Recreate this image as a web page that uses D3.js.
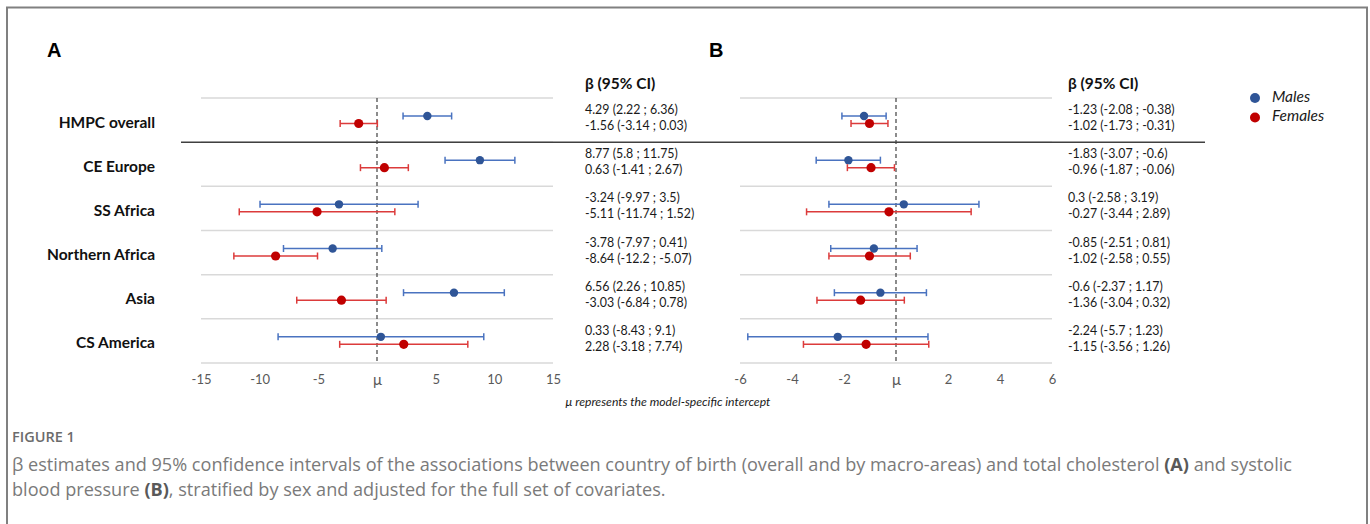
<!DOCTYPE html>
<html><head><meta charset="utf-8">
<script src="https://cdn.jsdelivr.net/npm/d3@7"></script>
<style>
html,body{margin:0;padding:0;background:#fff;}
svg{display:block;}
</style></head>
<body>
<svg id="chart" width="1370" height="524"></svg>
<script>
const categories = ["HMPC overall","CE Europe","SS Africa","Northern Africa","Asia","CS America"];
// Panel A: total cholesterol
const maleA   = [4.29, 8.77, -3.24, -3.78, 6.56, 0.33];
const maleALo = [2.22, 5.8, -9.97, -7.97, 2.26, -8.43];
const maleAHi = [6.36, 11.75, 3.5, 0.41, 10.85, 9.1];
const femA    = [-1.56, 0.63, -5.11, -8.64, -3.03, 2.28];
const femALo  = [-3.14, -1.41, -11.74, -12.2, -6.84, -3.18];
const femAHi  = [0.03, 2.67, 1.52, -5.07, 0.78, 7.74];
// Panel B: systolic blood pressure
const maleB   = [-1.23, -1.83, 0.3, -0.85, -0.6, -2.24];
const maleBLo = [-2.08, -3.07, -2.58, -2.51, -2.37, -5.7];
const maleBHi = [-0.38, -0.6, 3.19, 0.81, 1.17, 1.23];
const femB    = [-1.02, -0.96, -0.27, -1.02, -1.36, -1.15];
const femBLo  = [-1.73, -1.87, -3.44, -2.58, -3.04, -3.56];
const femBHi  = [-0.31, -0.06, 2.89, 0.55, 0.32, 1.26];
const ticksA = [-15, -10, -5, 0, 5, 10, 15];
const ticksB = [-6, -4, -2, 0, 2, 4, 6];
const seriesNames = ["Males", "Females"];

const svg = d3.select("#chart");
const chartFont = "Lato, 'Open Sans', sans-serif";
const C = {maleLine:"#4a73c0", maleDot:"#2f5597", femLine:"#dc3b3b", femDot:"#c00000"};

// frame
svg.append("rect").attr("x",7).attr("y",7.5).attr("width",1360).attr("height",540)
  .attr("fill","none").attr("stroke","#808080").attr("stroke-width",2);

const y = d3.scaleBand().domain(categories).range([98, 363]).padding(0);

function panel(opt){
  const x = d3.scaleLinear().domain(opt.domain).range(opt.range);
  const g = svg.append("g");
  // gridlines
  const bounds = [...categories.map(c=>y(c)), y.range()[1]];
  g.selectAll("line.grid").data(bounds).join("line")
    .attr("x1", x.range()[0]).attr("x2", x.range()[1])
    .attr("y1", d=>d).attr("y2", d=>d)
    .attr("stroke","#d9d9d9").attr("stroke-width",1.5);
  // axis tick labels
  const ax = d3.axisBottom(x).tickValues(opt.ticks).tickSize(0)
     .tickFormat(d => d === 0 ? "μ" : String(d));
  const axg = g.append("g").attr("transform", `translate(0,${y.range()[1]})`).call(ax);
  axg.select(".domain").remove();
  axg.selectAll("text").attr("dy", null).attr("y", 18).attr("dominant-baseline","middle")
    .attr("font-family", chartFont).attr("font-size", 13).attr("fill","#595959");
  axg.selectAll("text").filter(d=>d===0).attr("font-size",15).attr("y",18.5);
  // dashed zero line
  g.append("line").attr("x1",x(0)).attr("x2",x(0)).attr("y1",y.range()[0]).attr("y2",y.range()[1])
    .attr("stroke","#404040").attr("stroke-width",1.2).attr("stroke-dasharray","4,3");
  // series
  const series = [
    {v:opt.m, lo:opt.mlo, hi:opt.mhi, off:18, line:C.maleLine, dot:C.maleDot, r:4.2},
    {v:opt.f, lo:opt.flo, hi:opt.fhi, off:25.5, line:C.femLine, dot:C.femDot, r:4.6}
  ];
  series.forEach(s=>{
    const data = categories.map((c,i)=>({c, v:s.v[i], lo:s.lo[i], hi:s.hi[i]}));
    const sg = g.append("g");
    sg.selectAll("line.bar").data(data).join("line")
      .attr("x1",d=>x(d.lo)).attr("x2",d=>x(d.hi))
      .attr("y1",d=>y(d.c)+s.off).attr("y2",d=>y(d.c)+s.off)
      .attr("stroke",s.line).attr("stroke-width",1.5);
    ["lo","hi"].forEach(k=>{
      sg.selectAll("line.cap"+k).data(data).join("line")
        .attr("x1",d=>x(d[k])).attr("x2",d=>x(d[k]))
        .attr("y1",d=>y(d.c)+s.off-3.5).attr("y2",d=>y(d.c)+s.off+3.5)
        .attr("stroke",s.line).attr("stroke-width",1.5);
    });
    sg.selectAll("circle").data(data).join("circle")
      .attr("cx",d=>x(d.v)).attr("cy",d=>y(d.c)+s.off).attr("r",s.r).attr("fill",s.dot);
  });
  // header
  g.append("text").attr("x",opt.textX).attr("y",85).attr("dominant-baseline","middle")
    .attr("font-family",chartFont).attr("font-weight","bold").attr("font-size",15.5).attr("fill","#111")
    .text("β (95% CI)");
  // value labels
  const fmt = (v,lo,hi)=>`${v} (${lo} ; ${hi})`;
  categories.forEach((c,i)=>{
    [[opt.m[i],opt.mlo[i],opt.mhi[i],13],[opt.f[i],opt.flo[i],opt.fhi[i],29]].forEach(a=>{
      g.append("text").attr("x",opt.textX).attr("y",y(c)+a[3]).attr("dominant-baseline","middle")
        .attr("font-family",chartFont).attr("font-size",12.4).attr("fill","#1a1a1a")
        .text(fmt(a[0],a[1],a[2]));
    });
  });
  // panel letter
  g.append("text").attr("x",opt.letterX).attr("y",52).attr("dominant-baseline","middle")
    .attr("font-family","'Liberation Sans', Arial, sans-serif").attr("font-weight","bold")
    .attr("font-size",20).attr("fill","#000").text(opt.letter);
}

panel({domain:[-15,15], range:[201,553], ticks:ticksA, m:maleA, mlo:maleALo, mhi:maleAHi,
       f:femA, flo:femALo, fhi:femAHi, textX:585, letter:"A", letterX:47});
panel({domain:[-6,6], range:[740,1052], ticks:ticksB, m:maleB, mlo:maleBLo, mhi:maleBHi,
       f:femB, flo:femBLo, fhi:femBHi, textX:1068, letter:"B", letterX:709});

// category labels
svg.append("g").selectAll("text").data(categories).join("text")
  .attr("x",155).attr("y",d=>y(d)+y.bandwidth()/2+3.5).attr("text-anchor","end").attr("dominant-baseline","middle")
  .attr("font-family",chartFont).attr("font-weight","bold").attr("font-size",15.5).attr("fill","#111")
  .text(d=>d);

// separator line
svg.append("line").attr("x1",181).attr("x2",1205).attr("y1",y(categories[1])).attr("y2",y(categories[1]))
  .attr("stroke","#404040").attr("stroke-width",1.5);

// legend
const leg = svg.append("g");
seriesNames.forEach((n,i)=>{
  leg.append("circle").attr("cx",1255).attr("cy",98+i*19.5).attr("r",5).attr("fill",i?C.femDot:C.maleDot);
  leg.append("text").attr("x",1272).attr("y",98+i*19.5).attr("dominant-baseline","middle")
    .attr("font-family",chartFont).attr("font-style","italic").attr("font-size",15.5).attr("fill","#1a1a1a").text(n);
});

// note
svg.append("text").attr("x",668).attr("y",403).attr("text-anchor","middle").attr("dominant-baseline","middle")
  .attr("font-family",chartFont).attr("font-style","italic").attr("font-size",12.2).attr("fill","#1a1a1a")
  .text("μ represents the model-specific intercept");

// caption
const capFont = "'Open Sans', 'Noto Sans', sans-serif";
svg.append("text").attr("x",12).attr("y",442).attr("font-family",capFont).attr("font-size",14.5)
  .attr("font-weight",600).attr("fill","#6b6b6b").text("FIGURE 1");
const l1 = svg.append("text").attr("x",12).attr("y",471).attr("font-family",capFont).attr("font-size",18.1)
  .attr("fill","#7a7a7a");
l1.append("tspan").text("β estimates and 95% confidence intervals of the associations between country of birth (overall and by macro-areas) and total cholesterol ");
l1.append("tspan").attr("font-weight","bold").attr("fill","#595959").text("(A)");
l1.append("tspan").text(" and systolic");
const l2 = svg.append("text").attr("x",12).attr("y",496).attr("font-family",capFont).attr("font-size",18.1)
  .attr("fill","#7a7a7a");
l2.append("tspan").text("blood pressure ");
l2.append("tspan").attr("font-weight","bold").attr("fill","#595959").text("(B)");
l2.append("tspan").text(", stratified by sex and adjusted for the full set of covariates.");
</script>
</body></html>
